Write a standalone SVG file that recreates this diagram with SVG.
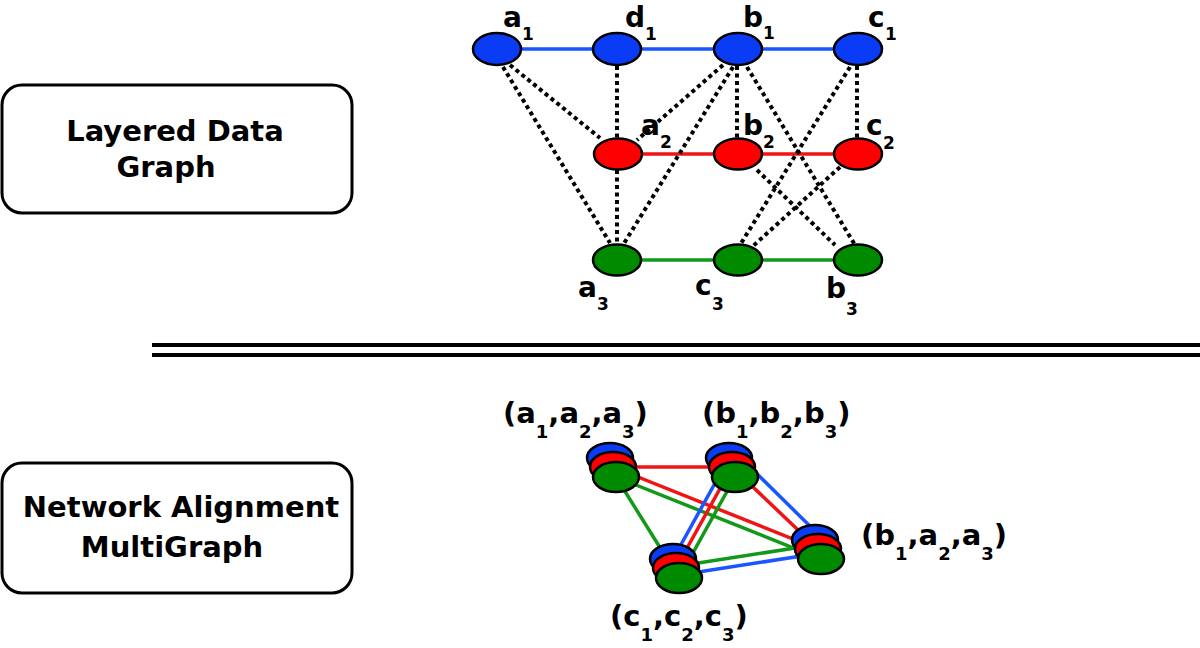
<svg xmlns="http://www.w3.org/2000/svg" width="1200" height="648" viewBox="0 0 1200 648">
<style>
.box{fill:#fff;stroke:#000;stroke-width:3}
.btxt{font-family:"DejaVu Sans","Verdana",sans-serif;font-weight:bold;font-size:29px;fill:#000}
.lbl{font-family:"DejaVu Sans","Verdana",sans-serif;font-weight:bold;font-size:28px;fill:#000}
.tl{font-family:"DejaVu Sans","Verdana",sans-serif;font-weight:bold;font-size:29px;fill:#000}
.sub{font-size:17px}
.tl .sub{font-size:18px}
.nb{fill:#0a3cf5;stroke:#000;stroke-width:2.5}
.nr{fill:#f00;stroke:#000;stroke-width:2.5}
.ng{fill:#008a00;stroke:#000;stroke-width:2.5}
.dot{stroke:#000;stroke-width:4;stroke-dasharray:4 3.5;fill:none}
.eb{stroke:#1a55ff;stroke-width:3.5;fill:none}
.er{stroke:#f01414;stroke-width:3.5;fill:none}
.eg{stroke:#12991a;stroke-width:3.5;fill:none}
.sep{stroke:#000;stroke-width:4}
</style>
<rect width="1200" height="648" fill="#fff"/>

<g id="box-layered">
<rect class="box" x="2" y="85" width="350" height="128" rx="20"/>
<text class="btxt" x="175" y="141" text-anchor="middle">Layered Data</text>
<text class="btxt" x="166" y="177" text-anchor="middle">Graph</text>
</g>
<g id="box-multigraph">
<rect class="box" x="2" y="463" width="350" height="130" rx="20"/>
<text class="btxt" x="181" y="517" text-anchor="middle">Network Alignment</text>
<text class="btxt" x="172" y="557" text-anchor="middle">MultiGraph</text>
</g>

<g id="separator">
<line class="sep" x1="152" y1="345" x2="1200" y2="345"/>
<line class="sep" x1="152" y1="355" x2="1200" y2="355"/>
</g>

<g id="connectors">
<!-- layered graph: intra-layer edges -->
<line class="eb" x1="497" y1="49" x2="858" y2="49"/>
<line class="er" x1="618" y1="154" x2="858" y2="154"/>
<line class="eg" x1="617" y1="260" x2="858" y2="260"/>
<!-- inter-layer dotted edges -->
<line class="dot" x1="510" y1="65" x2="600" y2="138"/>
<line class="dot" x1="503" y1="67" x2="610" y2="243"/>
<line class="dot" x1="617" y1="66" x2="617" y2="138"/>
<line class="dot" x1="723" y1="65" x2="637" y2="140"/>
<line class="dot" x1="733" y1="67" x2="623" y2="245"/>
<line class="dot" x1="617" y1="170" x2="617" y2="244"/>
<line class="dot" x1="737" y1="66" x2="737" y2="138"/>
<line class="dot" x1="747" y1="67" x2="855" y2="245"/>
<line class="dot" x1="857" y1="66" x2="857" y2="138"/>
<line class="dot" x1="850" y1="67" x2="740" y2="245"/>
<line class="dot" x1="757" y1="170" x2="835" y2="245"/>
<line class="dot" x1="840" y1="167" x2="752" y2="247"/>
<!-- multigraph edges -->
<line class="er" x1="613" y1="467" x2="732" y2="467"/>
<line class="er" x1="613" y1="467" x2="818" y2="549"/>
<line class="eg" x1="616" y1="477" x2="821" y2="559"/>
<line class="eg" x1="616" y1="477" x2="679" y2="578"/>
<line class="eb" x1="729" y1="458" x2="673" y2="559"/>
<line class="er" x1="732" y1="467" x2="676" y2="568"/>
<line class="eg" x1="735" y1="477" x2="679" y2="578"/>
<line class="er" x1="732" y1="467" x2="818" y2="549"/>
<line class="eb" x1="738" y1="455" x2="822" y2="538"/>
<line class="eg" x1="679" y1="566" x2="821" y2="544"/>
<line class="eb" x1="679" y1="575" x2="821" y2="553"/>
</g>

<g id="node-a1"><ellipse class="nb" cx="497" cy="49" rx="24" ry="16"/><text class="lbl" x="503" y="27">a<tspan class="sub" x="522" y="40">1</tspan></text></g>
<g id="node-d1"><ellipse class="nb" cx="617" cy="49" rx="24" ry="16"/><text class="lbl" x="625" y="27">d<tspan class="sub" x="645" y="40">1</tspan></text></g>
<g id="node-b1"><ellipse class="nb" cx="738" cy="49" rx="24" ry="16"/><text class="lbl" x="743" y="27">b<tspan class="sub" x="763" y="39">1</tspan></text></g>
<g id="node-c1"><ellipse class="nb" cx="858" cy="49" rx="24" ry="16"/><text class="lbl" x="868" y="27">c<tspan class="sub" x="885" y="40">1</tspan></text></g>

<g id="node-a2"><ellipse class="nr" cx="618" cy="154" rx="24" ry="15.5"/><text class="lbl" x="641" y="135">a<tspan class="sub" x="660" y="148">2</tspan></text></g>
<g id="node-b2"><ellipse class="nr" cx="738" cy="154" rx="24" ry="15.5"/><text class="lbl" x="743" y="135">b<tspan class="sub" x="763" y="148">2</tspan></text></g>
<g id="node-c2"><ellipse class="nr" cx="858" cy="154" rx="24" ry="15.5"/><text class="lbl" x="866" y="135">c<tspan class="sub" x="883" y="149">2</tspan></text></g>

<g id="node-a3"><ellipse class="ng" cx="617" cy="260" rx="24" ry="15.5"/><text class="lbl" x="578" y="297">a<tspan class="sub" x="597" y="310">3</tspan></text></g>
<g id="node-c3"><ellipse class="ng" cx="738" cy="260" rx="24" ry="15.5"/><text class="lbl" x="695" y="295">c<tspan class="sub" x="712" y="310">3</tspan></text></g>
<g id="node-b3"><ellipse class="ng" cx="858" cy="260" rx="24" ry="15.5"/><text class="lbl" x="826" y="298">b<tspan class="sub" x="846" y="315">3</tspan></text></g>

<g id="node-a1a2a3">
<ellipse class="nb" cx="610" cy="458" rx="23" ry="15"/>
<ellipse class="nr" cx="613" cy="467" rx="23" ry="15"/>
<ellipse class="ng" cx="616" cy="477" rx="23" ry="15"/>
<text class="tl" x="503" y="423">(a<tspan class="sub" dy="15">1</tspan><tspan dy="-15">,a</tspan><tspan class="sub" dy="15">2</tspan><tspan dy="-15">,a</tspan><tspan class="sub" dy="15">3</tspan><tspan dy="-15">)</tspan></text>
</g>
<g id="node-b1b2b3">
<ellipse class="nb" cx="729" cy="458" rx="23" ry="15"/>
<ellipse class="nr" cx="732" cy="467" rx="23" ry="15"/>
<ellipse class="ng" cx="735" cy="477" rx="23" ry="15"/>
<text class="tl" x="702" y="423">(b<tspan class="sub" dy="15">1</tspan><tspan dy="-15">,b</tspan><tspan class="sub" dy="15">2</tspan><tspan dy="-15">,b</tspan><tspan class="sub" dy="15">3</tspan><tspan dy="-15">)</tspan></text>
</g>
<g id="node-b1a2a3">
<ellipse class="nb" cx="815" cy="540" rx="23" ry="15"/>
<ellipse class="nr" cx="818" cy="549" rx="23" ry="15"/>
<ellipse class="ng" cx="821" cy="559" rx="23" ry="15"/>
<text class="tl" x="861" y="545">(b<tspan class="sub" dy="15">1</tspan><tspan dy="-15">,a</tspan><tspan class="sub" dy="15">2</tspan><tspan dy="-15">,a</tspan><tspan class="sub" dy="15">3</tspan><tspan dy="-15">)</tspan></text>
</g>
<g id="node-c1c2c3">
<ellipse class="nb" cx="673" cy="559" rx="23" ry="15"/>
<ellipse class="nr" cx="676" cy="568" rx="23" ry="15"/>
<ellipse class="ng" cx="679" cy="578" rx="23" ry="15"/>
<text class="tl" x="610" y="626">(c<tspan class="sub" dy="15">1</tspan><tspan dy="-15">,c</tspan><tspan class="sub" dy="15">2</tspan><tspan dy="-15">,c</tspan><tspan class="sub" dy="15">3</tspan><tspan dy="-15">)</tspan></text>
</g>
</svg>
